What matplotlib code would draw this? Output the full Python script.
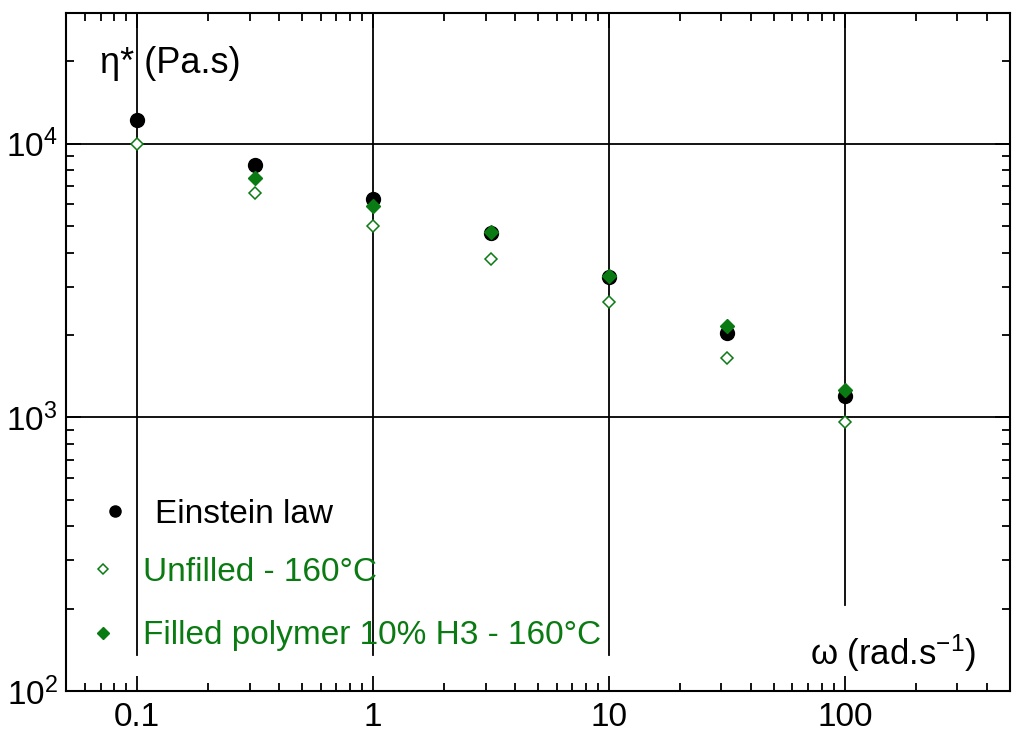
import numpy as np
import matplotlib
matplotlib.use("Agg")
import matplotlib.pyplot as plt
from matplotlib.ticker import LogLocator, FixedLocator, FixedFormatter, LogFormatterMathtext, NullFormatter

plt.rcParams['font.family'] = ['Liberation Sans', 'DejaVu Sans']
plt.rcParams['mathtext.fontset'] = 'custom'
plt.rcParams['mathtext.rm'] = 'Liberation Sans'
plt.rcParams['mathtext.it'] = 'Liberation Sans:italic'

# Data
omega = [0.1, 0.316, 1, 3.16, 10, 31.6, 100]
einstein = [12200, 8340, 6300, 4720, 3260, 2030, 1194]
unfilled = [10000, 6620, 5010, 3790, 2640, 1645, 960]
filled = [np.nan, 7510, 5930, 4740, 3290, 2150, 1256]

x_major = [0.1, 1, 10, 100]
x_labels = ['0.1', '1', '10', '100']
y_grid = [1e3, 1e4]

GREEN = '#0a7a12'

fig = plt.figure(figsize=(10.24, 7.44), dpi=100)
ax = fig.add_axes([0.0645, 0.0712, 0.9215, 0.9113])
ax.set_xscale('log')
ax.set_yscale('log')
ax.set_xlim(0.05, 500)
ax.set_ylim(100, 30000)

# grid lines (partial vertical lines as in reference)
for xv in x_major:
    ymin = 0.127 if xv == 100 else 0.053
    ax.axvline(xv, ymin=ymin, ymax=1, color='black', lw=1.3, zorder=1)
for yv in y_grid:
    ax.axhline(yv, color='black', lw=1.3, zorder=1)

l_unf, = ax.plot(omega, unfilled, linestyle='none', marker='D', markersize=6.5,
                 markerfacecolor='white', markeredgecolor=GREEN, markeredgewidth=1.1,
                 label='Unfilled - 160°C', zorder=3)
l_ein, = ax.plot(omega, einstein, linestyle='none', marker='o', markersize=10,
                 markerfacecolor='black', markeredgecolor='black',
                 label='Einstein law', zorder=3)
l_fil, = ax.plot(omega, filled, linestyle='none', marker='D', markersize=7.5,
                 markerfacecolor=GREEN, markeredgecolor=GREEN,
                 label='Filled polymer 10% H3 - 160°C', zorder=4)

# ticks
ax.xaxis.set_major_locator(FixedLocator(x_major))
ax.xaxis.set_major_formatter(FixedFormatter(x_labels))
ax.xaxis.set_minor_locator(LogLocator(base=10, subs=np.arange(2, 10)))
ax.xaxis.set_minor_formatter(NullFormatter())
ax.yaxis.set_major_locator(LogLocator(base=10, numticks=10))
ax.yaxis.set_major_formatter(LogFormatterMathtext())
ax.yaxis.set_minor_locator(LogLocator(base=10, subs=np.arange(2, 10), numticks=10))
ax.yaxis.set_minor_formatter(NullFormatter())
ax.tick_params(which='both', direction='in', top=True, right=True, width=1.3)
ax.tick_params(which='major', length=11, labelsize=24)
ax.tick_params(which='minor', length=5.5)
ax.tick_params(axis='x', which='major', pad=8)
ax.tick_params(axis='y', which='major', pad=6)
for s in ax.spines.values():
    s.set_linewidth(1.5)

# axis labels inside
ax.text(0.036, 0.926, 'η* (Pa.s)', transform=ax.transAxes, fontsize=26,
        ha='left', va='center', color='black')
ax.text(0.788, 0.056, r'ω (rad.s$^{-1}$)', transform=ax.transAxes, fontsize=25,
        ha='left', va='center', color='black')

# legends
common = dict(frameon=False, fontsize=24, borderpad=0, borderaxespad=0,
              handlelength=0.8, handletextpad=0.8, labelspacing=0.97,
              markerscale=0.8)
leg1 = ax.legend([l_ein], ['Einstein law'], loc='center left',
                 bbox_to_anchor=(0.0376, 0.261), labelcolor=['black'], **common)
ax.add_artist(leg1)
leg2 = ax.legend([l_unf, l_fil], ['Unfilled - 160°C', 'Filled polymer 10% H3 - 160°C'],
                 loc='center left', bbox_to_anchor=(0.0254, 0.128),
                 labelcolor=[GREEN, GREEN], **common)

fig.savefig('out.png', dpi=100)
